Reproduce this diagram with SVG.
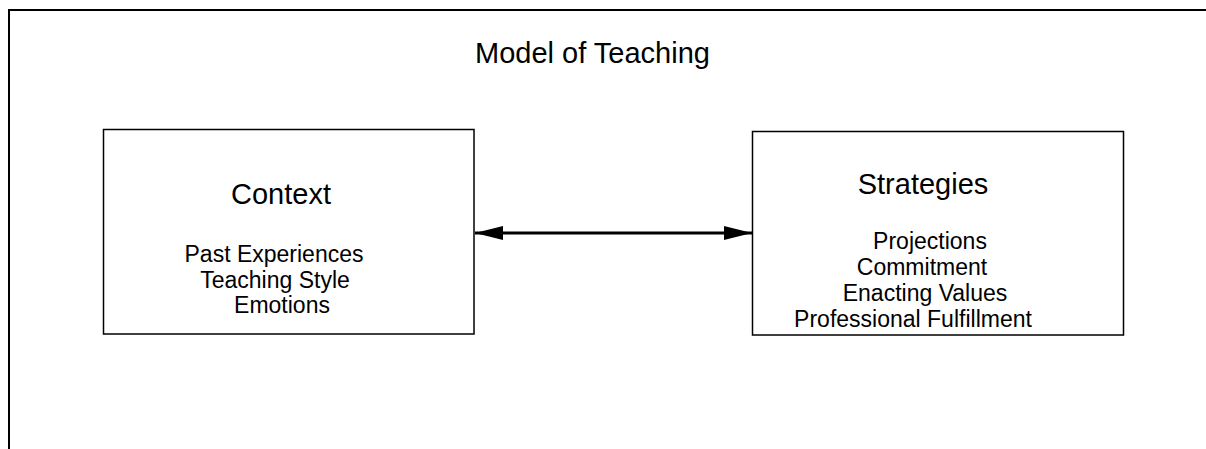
<svg xmlns="http://www.w3.org/2000/svg" width="1206" height="449" viewBox="0 0 1206 449">
<defs>
<style>
.frame{fill:none;stroke:#000;stroke-width:2}
.box{fill:#fff;stroke:#000;stroke-width:1.5}
.t{font-family:"Liberation Sans",Arial,sans-serif;fill:#000;text-anchor:middle}
.h{font-size:29px}
.i{font-size:23px}
.conn{stroke:#000;stroke-width:3;fill:none}
</style>
<marker id="ah" viewBox="0 0 28 14" refX="28" refY="7" markerWidth="28" markerHeight="14" markerUnits="userSpaceOnUse" orient="auto-start-reverse">
<path d="M0,0 L28,7 L0,14 Z" fill="#000"/>
</marker>
</defs>
<rect width="1206" height="449" fill="#fff"/>
<path class="frame" d="M9,449 V10 H1206"/>
<text class="t h" x="592.5" y="63">Model of Teaching</text>
<g id="context">
<rect class="box" x="103.5" y="129.5" width="370.5" height="204.5"/>
<text class="t h" x="281" y="204">Context</text>
<text class="t i" x="274" y="262">Past Experiences</text>
<text class="t i" x="275" y="288">Teaching Style</text>
<text class="t i" x="282" y="313">Emotions</text>
</g>
<g id="strategies">
<rect class="box" x="752.5" y="131.5" width="371" height="203.5"/>
<text class="t h" x="923" y="194">Strategies</text>
<text class="t i" x="930" y="249">Projections</text>
<text class="t i" x="922" y="275">Commitment</text>
<text class="t i" x="925" y="301">Enacting Values</text>
<text class="t i" x="913" y="327">Professional Fulfillment</text>
</g>
<g id="connectors">
<line class="conn" x1="475" y1="233" x2="752" y2="233" marker-start="url(#ah)" marker-end="url(#ah)"/>
</g>
</svg>
